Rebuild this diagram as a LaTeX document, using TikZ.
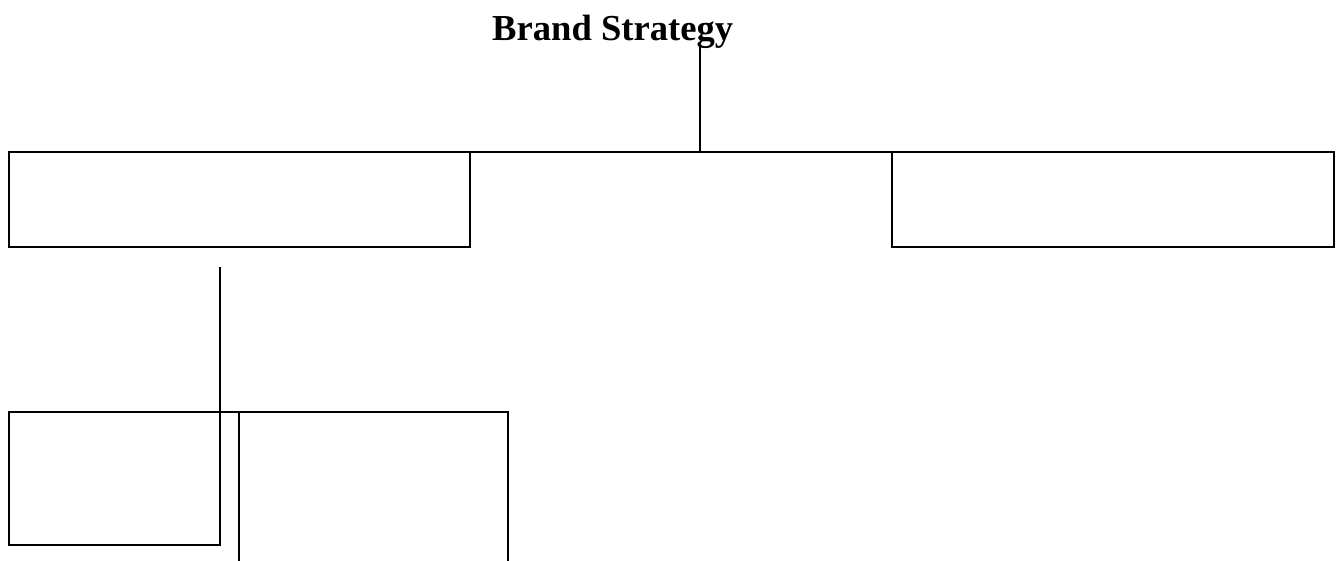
\documentclass[tikz,border=0pt]{standalone}
\usepackage{fontspec}
\setmainfont{Liberation Serif}
\begin{document}
\begin{tikzpicture}[x=1pt,y=-1pt,
  box/.style={draw=black,line width=1.6pt,inner sep=0pt,outer sep=0pt,rectangle,anchor=north west},
  conn/.style={draw=black,line width=1.6pt}]
\clip (0,0) rectangle (1341,560);
\useasboundingbox (0,0) rectangle (1341,560);
\node[font=\bfseries\fontsize{36.6}{40}\selectfont,anchor=base west,inner sep=0pt] (title) at (492,40) {Brand Strategy};
\node[box,minimum width=461pt,minimum height=95pt] (b1) at (9,152) {};
\node[box,minimum width=442pt,minimum height=95pt] (b2) at (892,152) {};
\node[box,minimum width=211pt,minimum height=133pt] (b3) at (9,412) {};
\node[box,minimum width=269pt,minimum height=170pt] (b4) at (239,412) {};
\coordinate (tdrop) at (700,47);
\coordinate (join) at (700,152);
\coordinate (ldrop) at (220,267);
\draw[conn] (tdrop) -- (join);
\draw[conn] (b1.north east) -- (b2.north west);
\draw[conn] (ldrop) -- (b3.south east);
\draw[conn] (b3.north east) -- (b4.north west);
\end{tikzpicture}
\end{document}
